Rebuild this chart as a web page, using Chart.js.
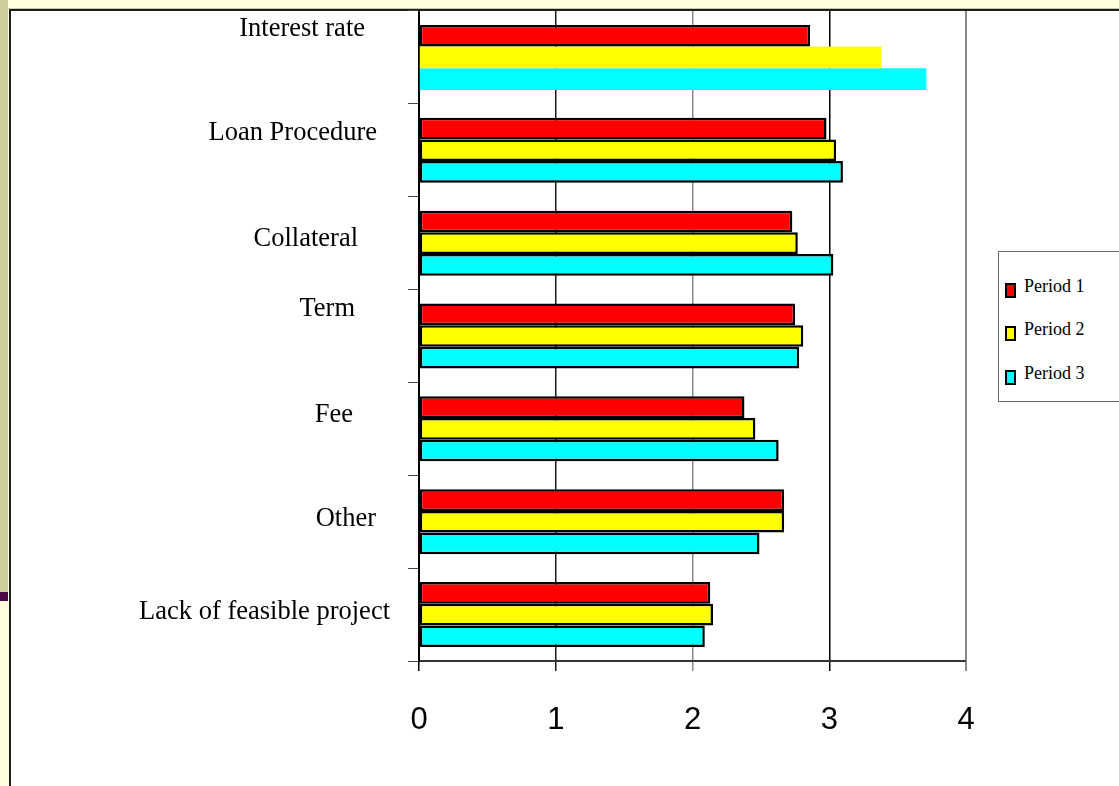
<!DOCTYPE html>
<html>
<head>
<meta charset="utf-8">
<script src="https://cdn.jsdelivr.net/npm/chart.js@4.4.1/dist/chart.umd.min.js"></script>
<style>
    html, body { margin: 0; padding: 0; }
    body { width: 1119px; height: 786px; background: #FFFFDC; position: relative; overflow: hidden; }
    .side-strip { position: absolute; left: 0; top: 0; width: 8px; height: 592px; background: #CFCD9B; }
    .side-mark { position: absolute; left: 0; top: 592px; width: 8px; height: 9px; background: #4A0A48; }
    .top-line { position: absolute; left: 8px; top: 8px; right: 0; height: 1px; background: #C9C8A6; }
    .panel { position: absolute; left: 9px; top: 9px; right: 0; bottom: 0; background: #fff;
             border-left: 2px solid #1c1c1c; border-top: 2px solid #1c1c1c; }
    #chart { position: absolute; left: 0; top: 0; }
    .legend { position: absolute; left: 998px; top: 251px; width: 140px; height: 151px; box-sizing: border-box;
              border: 1px solid #6a6a6a; background: #fff; font-family: "Liberation Serif", "Times New Roman", serif; }
    .legend-item { position: absolute; left: 6px; height: 15px; }
    .legend-box { position: absolute; left: 0; top: 0; width: 11px; height: 15px; box-sizing: border-box; border: 2px solid #000; }
    .legend-text { position: absolute; left: 19px; top: -6px; font-size: 18px; line-height: 18px; white-space: nowrap; color: #000; }
</style>
</head>
<body>
<div class="side-strip"></div>
<div class="side-mark"></div>
<div class="top-line"></div>
<div class="panel"></div>
<canvas id="chart" width="1119" height="786"></canvas>
<div class="legend" id="legend"></div>

<script>
// Chart data
const categories = ['Interest rate', 'Loan Procedure', 'Collateral', 'Term', 'Fee', 'Other', 'Lack of feasible project'];
const seriesNames = ['Period 1', 'Period 2', 'Period 3'];
const period1 = [2.86, 2.98, 2.73, 2.75, 2.38, 2.67, 2.13];
const period2 = [3.38, 3.05, 2.77, 2.81, 2.46, 2.67, 2.15];
const period3 = [3.71, 3.10, 3.03, 2.78, 2.63, 2.49, 2.09];
const xTicks = [0, 1, 2, 3, 4];

const seriesColors = ['#FF0000', '#FFFF00', '#00FFFF'];
const gridColors = ['#000000', '#1a1a1a', '#8a8a8a', '#000000', '#8a8a8a'];

// hand placed category labels: gap to the axis and shift from the band centre
const labelGap = [54, 42, 61, 64, 66, 43, 29];
const labelShift = [-21, -10, 3, -20, -7, 4, 4];

// Draws the category names left of the axis
const categoryLabels = {
    id: 'categoryLabels',
    afterDraw(chart) {
        const yScale = chart.scales.y;
        const ctx = chart.ctx;
        ctx.save();
        ctx.font = '26.5px "Liberation Serif", "Times New Roman", serif';
        ctx.fillStyle = '#000';
        ctx.textAlign = 'right';
        ctx.textBaseline = 'alphabetic';
        categories.forEach((name, i) => {
            const y = yScale.getPixelForValue(i) + labelShift[i];
            ctx.fillText(name, chart.chartArea.left - labelGap[i], y);
        });
        ctx.restore();
    }
};

const chart = new Chart(document.getElementById('chart'), {
    type: 'bar',
    data: {
        labels: categories,
        datasets: [period1, period2, period3].map((values, i) => ({
            label: seriesNames[i],
            data: values,
            backgroundColor: seriesColors[i],
            borderColor: '#000',
            // the first group only has an outline on the red bar
            borderWidth: ctx => (ctx.dataIndex === 0 && ctx.datasetIndex > 0) ? 0 : 2.5,
            borderSkipped: false,
            categoryPercentage: 0.7,
            barPercentage: 1.0
        }))
    },
    options: {
        indexAxis: 'y',
        responsive: false,
        animation: false,
        devicePixelRatio: 1,
        layout: { padding: { left: 408, right: 153, top: 11, bottom: 55 } },
        plugins: {
            legend: { display: false },
            tooltip: { enabled: false }
        },
        scales: {
            x: {
                type: 'linear',
                min: 0,
                max: 4,
                afterBuildTicks: scale => { scale.ticks = xTicks.map(v => ({ value: v })); },
                afterFit: scale => { scale.height = 70; },
                grid: {
                    color: ctx => gridColors[ctx.index] || '#000',
                    lineWidth: ctx => ctx.index === 4 ? 2 : 1.5,
                    drawTicks: true,
                    tickLength: 10
                },
                border: { display: true, color: '#333', width: 2 },
                ticks: {
                    color: '#000',
                    padding: 31,
                    font: { family: '"Liberation Sans", Arial, sans-serif', size: 31 }
                }
            },
            y: {
                type: 'category',
                afterFit: scale => { scale.width = 11; },
                grid: {
                    drawOnChartArea: false,
                    drawTicks: true,
                    tickLength: 11,
                    color: '#444',
                    offset: true
                },
                border: { display: true, color: '#000', width: 2 },
                ticks: { display: false }
            }
        }
    },
    plugins: [categoryLabels]
});

// Boxed legend on the right
const legend = document.getElementById('legend');
chart.data.datasets.forEach((ds, i) => {
    const item = document.createElement('div');
    item.className = 'legend-item';
    item.style.top = (30.7 + i * 43.6) + 'px';
    item.innerHTML = `
        <div class="legend-box" style="background:${ds.backgroundColor}"></div>
        <span class="legend-text">${ds.label}</span>
    `;
    legend.appendChild(item);
});
</script>
</body>
</html>
